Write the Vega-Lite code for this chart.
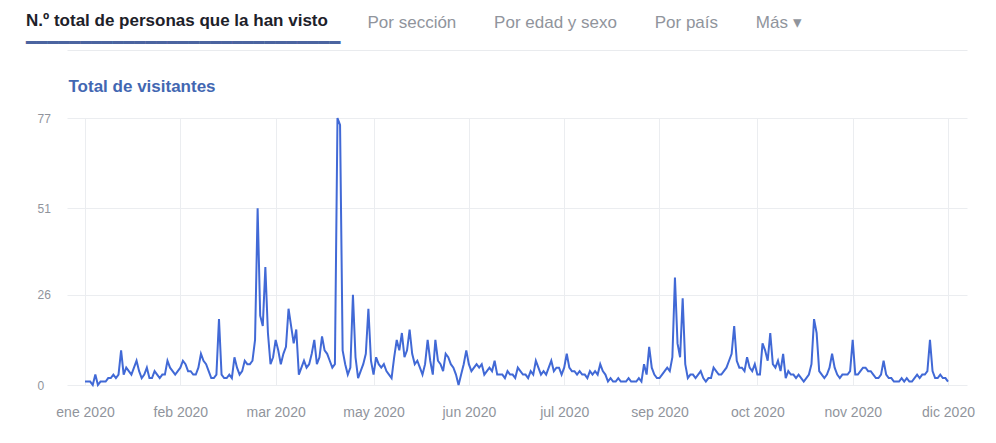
{
  "$schema": "https://vega.github.io/schema/vega-lite/v6.json",
  "width": 900,
  "height": 267,
  "autosize": {"type": "none"},
  "padding": {"left": 67, "top": 118, "right": 29, "bottom": 58},
  "background": "#ffffff",
  "config": {"view": {"stroke": null}, "font": "Liberation Sans"},
  "title": {
    "text": "N.º total de personas que la han visto",
    "subtitle": "━━━━━━━━━━━━━━━━━━━━━━━━━━━━━",
    "anchor": "start",
    "frame": "group",
    "dx": -41,
    "dy": 41,
    "offset": 0,
    "font": "Liberation Sans",
    "fontSize": 17,
    "fontWeight": "bold",
    "color": "#1d2129",
    "subtitleFont": "DejaVu Sans",
    "subtitleFontSize": 18,
    "subtitleColor": "#4b64a0",
    "subtitlePadding": 5
  },
  "data": {
    "values": [
      {"date": "2020-01-01", "v": 1}, {"date": "2020-01-02", "v": 1}, {"date": "2020-01-03", "v": 1}, {"date": "2020-01-04", "v": 0}, {"date": "2020-01-05", "v": 3}, {"date": "2020-01-06", "v": 0}, {"date": "2020-01-07", "v": 1}, {"date": "2020-01-08", "v": 1}, {"date": "2020-01-09", "v": 1}, {"date": "2020-01-10", "v": 2},
      {"date": "2020-01-11", "v": 2}, {"date": "2020-01-12", "v": 3}, {"date": "2020-01-13", "v": 2}, {"date": "2020-01-14", "v": 3}, {"date": "2020-01-15", "v": 10}, {"date": "2020-01-16", "v": 3}, {"date": "2020-01-17", "v": 5}, {"date": "2020-01-18", "v": 4}, {"date": "2020-01-19", "v": 3}, {"date": "2020-01-20", "v": 5},
      {"date": "2020-01-21", "v": 7}, {"date": "2020-01-22", "v": 4}, {"date": "2020-01-23", "v": 2}, {"date": "2020-01-24", "v": 3}, {"date": "2020-01-25", "v": 5}, {"date": "2020-01-26", "v": 2}, {"date": "2020-01-27", "v": 2}, {"date": "2020-01-28", "v": 4}, {"date": "2020-01-29", "v": 3}, {"date": "2020-01-30", "v": 2}, {"date": "2020-01-31", "v": 3},
      {"date": "2020-02-01", "v": 3}, {"date": "2020-02-02", "v": 7}, {"date": "2020-02-03", "v": 5}, {"date": "2020-02-04", "v": 4}, {"date": "2020-02-05", "v": 3}, {"date": "2020-02-06", "v": 4}, {"date": "2020-02-07", "v": 5}, {"date": "2020-02-08", "v": 7}, {"date": "2020-02-09", "v": 6}, {"date": "2020-02-10", "v": 4},
      {"date": "2020-02-11", "v": 4}, {"date": "2020-02-12", "v": 3}, {"date": "2020-02-13", "v": 3}, {"date": "2020-02-14", "v": 5}, {"date": "2020-02-15", "v": 9}, {"date": "2020-02-16", "v": 7}, {"date": "2020-02-17", "v": 6}, {"date": "2020-02-18", "v": 4}, {"date": "2020-02-19", "v": 2}, {"date": "2020-02-20", "v": 2},
      {"date": "2020-02-21", "v": 3}, {"date": "2020-02-22", "v": 19}, {"date": "2020-02-23", "v": 3}, {"date": "2020-02-24", "v": 2}, {"date": "2020-02-25", "v": 2}, {"date": "2020-02-26", "v": 3}, {"date": "2020-02-27", "v": 2}, {"date": "2020-02-28", "v": 8}, {"date": "2020-02-29", "v": 5},
      {"date": "2020-03-01", "v": 3}, {"date": "2020-03-02", "v": 4}, {"date": "2020-03-03", "v": 7}, {"date": "2020-03-04", "v": 6}, {"date": "2020-03-05", "v": 6}, {"date": "2020-03-06", "v": 7}, {"date": "2020-03-07", "v": 13}, {"date": "2020-03-08", "v": 51}, {"date": "2020-03-09", "v": 20}, {"date": "2020-03-10", "v": 17},
      {"date": "2020-03-11", "v": 34}, {"date": "2020-03-12", "v": 15}, {"date": "2020-03-13", "v": 6}, {"date": "2020-03-14", "v": 8}, {"date": "2020-03-15", "v": 13}, {"date": "2020-03-16", "v": 10}, {"date": "2020-03-17", "v": 6}, {"date": "2020-03-18", "v": 9}, {"date": "2020-03-19", "v": 11}, {"date": "2020-03-20", "v": 22},
      {"date": "2020-03-21", "v": 17}, {"date": "2020-03-22", "v": 12}, {"date": "2020-03-23", "v": 16}, {"date": "2020-03-24", "v": 3}, {"date": "2020-03-25", "v": 5}, {"date": "2020-03-26", "v": 7}, {"date": "2020-03-27", "v": 5}, {"date": "2020-03-28", "v": 6}, {"date": "2020-03-29", "v": 9}, {"date": "2020-03-30", "v": 13}, {"date": "2020-03-31", "v": 6},
      {"date": "2020-04-01", "v": 8}, {"date": "2020-04-02", "v": 14}, {"date": "2020-04-03", "v": 10}, {"date": "2020-04-04", "v": 9}, {"date": "2020-04-05", "v": 7}, {"date": "2020-04-06", "v": 5}, {"date": "2020-04-07", "v": 6}, {"date": "2020-04-08", "v": 77}, {"date": "2020-04-09", "v": 75}, {"date": "2020-04-10", "v": 10},
      {"date": "2020-04-11", "v": 6}, {"date": "2020-04-12", "v": 3}, {"date": "2020-04-13", "v": 5}, {"date": "2020-04-14", "v": 26}, {"date": "2020-04-15", "v": 8}, {"date": "2020-04-16", "v": 2}, {"date": "2020-04-17", "v": 4}, {"date": "2020-04-18", "v": 6}, {"date": "2020-04-19", "v": 9}, {"date": "2020-04-20", "v": 22},
      {"date": "2020-04-21", "v": 7}, {"date": "2020-04-22", "v": 3}, {"date": "2020-04-23", "v": 8}, {"date": "2020-04-24", "v": 6}, {"date": "2020-04-25", "v": 5}, {"date": "2020-04-26", "v": 6}, {"date": "2020-04-27", "v": 4}, {"date": "2020-04-28", "v": 3}, {"date": "2020-04-29", "v": 2}, {"date": "2020-04-30", "v": 8},
      {"date": "2020-05-01", "v": 13}, {"date": "2020-05-02", "v": 10}, {"date": "2020-05-03", "v": 15}, {"date": "2020-05-04", "v": 8}, {"date": "2020-05-05", "v": 10}, {"date": "2020-05-06", "v": 16}, {"date": "2020-05-07", "v": 9}, {"date": "2020-05-08", "v": 6}, {"date": "2020-05-09", "v": 7}, {"date": "2020-05-10", "v": 5},
      {"date": "2020-05-11", "v": 3}, {"date": "2020-05-12", "v": 6}, {"date": "2020-05-13", "v": 13}, {"date": "2020-05-14", "v": 7}, {"date": "2020-05-15", "v": 3}, {"date": "2020-05-16", "v": 13}, {"date": "2020-05-17", "v": 7}, {"date": "2020-05-18", "v": 6}, {"date": "2020-05-19", "v": 4}, {"date": "2020-05-20", "v": 9},
      {"date": "2020-05-21", "v": 8}, {"date": "2020-05-22", "v": 6}, {"date": "2020-05-23", "v": 5}, {"date": "2020-05-24", "v": 3}, {"date": "2020-05-25", "v": 0}, {"date": "2020-05-26", "v": 3}, {"date": "2020-05-27", "v": 6}, {"date": "2020-05-28", "v": 10}, {"date": "2020-05-29", "v": 6}, {"date": "2020-05-30", "v": 4}, {"date": "2020-05-31", "v": 5},
      {"date": "2020-06-01", "v": 6}, {"date": "2020-06-02", "v": 5}, {"date": "2020-06-03", "v": 6}, {"date": "2020-06-04", "v": 3}, {"date": "2020-06-05", "v": 4}, {"date": "2020-06-06", "v": 5}, {"date": "2020-06-07", "v": 4}, {"date": "2020-06-08", "v": 7}, {"date": "2020-06-09", "v": 3}, {"date": "2020-06-10", "v": 3},
      {"date": "2020-06-11", "v": 3}, {"date": "2020-06-12", "v": 2}, {"date": "2020-06-13", "v": 4}, {"date": "2020-06-14", "v": 3}, {"date": "2020-06-15", "v": 3}, {"date": "2020-06-16", "v": 2}, {"date": "2020-06-17", "v": 5}, {"date": "2020-06-18", "v": 4}, {"date": "2020-06-19", "v": 3}, {"date": "2020-06-20", "v": 3},
      {"date": "2020-06-21", "v": 2}, {"date": "2020-06-22", "v": 4}, {"date": "2020-06-23", "v": 3}, {"date": "2020-06-24", "v": 7}, {"date": "2020-06-25", "v": 5}, {"date": "2020-06-26", "v": 3}, {"date": "2020-06-27", "v": 4}, {"date": "2020-06-28", "v": 3}, {"date": "2020-06-29", "v": 5}, {"date": "2020-06-30", "v": 7},
      {"date": "2020-07-01", "v": 4}, {"date": "2020-07-02", "v": 5}, {"date": "2020-07-03", "v": 5}, {"date": "2020-07-04", "v": 3}, {"date": "2020-07-05", "v": 5}, {"date": "2020-07-06", "v": 9}, {"date": "2020-07-07", "v": 5}, {"date": "2020-07-08", "v": 4}, {"date": "2020-07-09", "v": 4}, {"date": "2020-07-10", "v": 3},
      {"date": "2020-07-11", "v": 4}, {"date": "2020-07-12", "v": 3}, {"date": "2020-07-13", "v": 3}, {"date": "2020-07-14", "v": 2}, {"date": "2020-07-15", "v": 4}, {"date": "2020-07-16", "v": 3}, {"date": "2020-07-17", "v": 4}, {"date": "2020-07-18", "v": 3}, {"date": "2020-07-19", "v": 6}, {"date": "2020-07-20", "v": 4},
      {"date": "2020-07-21", "v": 3}, {"date": "2020-07-22", "v": 1}, {"date": "2020-07-23", "v": 2}, {"date": "2020-07-24", "v": 1}, {"date": "2020-07-25", "v": 1}, {"date": "2020-07-26", "v": 2}, {"date": "2020-07-27", "v": 1}, {"date": "2020-07-28", "v": 1}, {"date": "2020-07-29", "v": 1}, {"date": "2020-07-30", "v": 2}, {"date": "2020-07-31", "v": 1},
      {"date": "2020-08-01", "v": 1}, {"date": "2020-08-02", "v": 1}, {"date": "2020-08-03", "v": 2}, {"date": "2020-08-04", "v": 1}, {"date": "2020-08-05", "v": 6}, {"date": "2020-08-06", "v": 3}, {"date": "2020-08-07", "v": 11}, {"date": "2020-08-08", "v": 5}, {"date": "2020-08-09", "v": 3}, {"date": "2020-08-10", "v": 2},
      {"date": "2020-08-11", "v": 2}, {"date": "2020-08-12", "v": 3}, {"date": "2020-08-13", "v": 4}, {"date": "2020-08-14", "v": 5}, {"date": "2020-08-15", "v": 4}, {"date": "2020-08-16", "v": 8}, {"date": "2020-08-17", "v": 31}, {"date": "2020-08-18", "v": 12}, {"date": "2020-08-19", "v": 8}, {"date": "2020-08-20", "v": 25},
      {"date": "2020-08-21", "v": 6}, {"date": "2020-08-22", "v": 2}, {"date": "2020-08-23", "v": 3}, {"date": "2020-08-24", "v": 3}, {"date": "2020-08-25", "v": 2}, {"date": "2020-08-26", "v": 3}, {"date": "2020-08-27", "v": 4}, {"date": "2020-08-28", "v": 2}, {"date": "2020-08-29", "v": 1}, {"date": "2020-08-30", "v": 2}, {"date": "2020-08-31", "v": 2},
      {"date": "2020-09-01", "v": 5}, {"date": "2020-09-02", "v": 4}, {"date": "2020-09-03", "v": 3}, {"date": "2020-09-04", "v": 3}, {"date": "2020-09-05", "v": 4}, {"date": "2020-09-06", "v": 5}, {"date": "2020-09-07", "v": 7}, {"date": "2020-09-08", "v": 9}, {"date": "2020-09-09", "v": 17}, {"date": "2020-09-10", "v": 7},
      {"date": "2020-09-11", "v": 5}, {"date": "2020-09-12", "v": 5}, {"date": "2020-09-13", "v": 4}, {"date": "2020-09-14", "v": 8}, {"date": "2020-09-15", "v": 5}, {"date": "2020-09-16", "v": 4}, {"date": "2020-09-17", "v": 6}, {"date": "2020-09-18", "v": 3}, {"date": "2020-09-19", "v": 3}, {"date": "2020-09-20", "v": 12},
      {"date": "2020-09-21", "v": 10}, {"date": "2020-09-22", "v": 7}, {"date": "2020-09-23", "v": 15}, {"date": "2020-09-24", "v": 6}, {"date": "2020-09-25", "v": 5}, {"date": "2020-09-26", "v": 7}, {"date": "2020-09-27", "v": 4}, {"date": "2020-09-28", "v": 9}, {"date": "2020-09-29", "v": 2}, {"date": "2020-09-30", "v": 4},
      {"date": "2020-10-01", "v": 3}, {"date": "2020-10-02", "v": 3}, {"date": "2020-10-03", "v": 2}, {"date": "2020-10-04", "v": 3}, {"date": "2020-10-05", "v": 2}, {"date": "2020-10-06", "v": 1}, {"date": "2020-10-07", "v": 2}, {"date": "2020-10-08", "v": 3}, {"date": "2020-10-09", "v": 6}, {"date": "2020-10-10", "v": 19},
      {"date": "2020-10-11", "v": 15}, {"date": "2020-10-12", "v": 4}, {"date": "2020-10-13", "v": 3}, {"date": "2020-10-14", "v": 2}, {"date": "2020-10-15", "v": 3}, {"date": "2020-10-16", "v": 5}, {"date": "2020-10-17", "v": 9}, {"date": "2020-10-18", "v": 5}, {"date": "2020-10-19", "v": 3}, {"date": "2020-10-20", "v": 2},
      {"date": "2020-10-21", "v": 3}, {"date": "2020-10-22", "v": 3}, {"date": "2020-10-23", "v": 3}, {"date": "2020-10-24", "v": 4}, {"date": "2020-10-25", "v": 13}, {"date": "2020-10-26", "v": 3}, {"date": "2020-10-27", "v": 3}, {"date": "2020-10-28", "v": 4}, {"date": "2020-10-29", "v": 5}, {"date": "2020-10-30", "v": 5}, {"date": "2020-10-31", "v": 4},
      {"date": "2020-11-01", "v": 4}, {"date": "2020-11-02", "v": 3}, {"date": "2020-11-03", "v": 2}, {"date": "2020-11-04", "v": 2}, {"date": "2020-11-05", "v": 3}, {"date": "2020-11-06", "v": 7}, {"date": "2020-11-07", "v": 3}, {"date": "2020-11-08", "v": 2}, {"date": "2020-11-09", "v": 2}, {"date": "2020-11-10", "v": 1},
      {"date": "2020-11-11", "v": 1}, {"date": "2020-11-12", "v": 1}, {"date": "2020-11-13", "v": 2}, {"date": "2020-11-14", "v": 1}, {"date": "2020-11-15", "v": 2}, {"date": "2020-11-16", "v": 1}, {"date": "2020-11-17", "v": 1}, {"date": "2020-11-18", "v": 2}, {"date": "2020-11-19", "v": 3}, {"date": "2020-11-20", "v": 2},
      {"date": "2020-11-21", "v": 3}, {"date": "2020-11-22", "v": 3}, {"date": "2020-11-23", "v": 4}, {"date": "2020-11-24", "v": 13}, {"date": "2020-11-25", "v": 4}, {"date": "2020-11-26", "v": 2}, {"date": "2020-11-27", "v": 2}, {"date": "2020-11-28", "v": 3}, {"date": "2020-11-29", "v": 2}, {"date": "2020-11-30", "v": 2},
      {"date": "2020-12-01", "v": 1}
    ]
  },
  "layer": [
    {
      "mark": {"type": "line", "color": "#4169d6", "strokeWidth": 2},
      "encoding": {
        "x": {
          "field": "date",
          "type": "temporal",
          "scale": {
            "type": "utc",
            "domain": [
              {"year": 2019, "month": 12, "date": 25, "utc": true},
              {"year": 2020, "month": 12, "date": 8, "hours": 9, "utc": true}
            ]
          },
          "axis": {
            "orient": "bottom",
            "title": null,
            "values": [
              {"year": 2020, "month": 1, "date": 1, "utc": true},
              {"year": 2020, "month": 2, "date": 7, "utc": true},
              {"year": 2020, "month": 3, "date": 15, "utc": true},
              {"year": 2020, "month": 4, "date": 22, "utc": true},
              {"year": 2020, "month": 5, "date": 29, "utc": true},
              {"year": 2020, "month": 7, "date": 5, "utc": true},
              {"year": 2020, "month": 8, "date": 11, "utc": true},
              {"year": 2020, "month": 9, "date": 18, "utc": true},
              {"year": 2020, "month": 10, "date": 25, "utc": true},
              {"year": 2020, "month": 12, "date": 1, "utc": true}
            ],
            "labelExpr": "['ene 2020','feb 2020','mar 2020','may 2020','jun 2020','jul 2020','sep 2020','oct 2020','nov 2020','dic 2020'][round(datum.index * 9)]",
            "grid": true,
            "gridColor": "#ebedf0",
            "ticks": false,
            "tickSize": 0,
            "domain": false,
            "labelPadding": 20,
            "labelFont": "Liberation Sans",
            "labelFontSize": 14,
            "labelColor": "#90949c",
            "labelFlush": false,
            "labelOverlap": false
          }
        },
        "y": {
          "field": "v",
          "type": "quantitative",
          "scale": {"domain": [0, 77], "nice": false},
          "axis": {
            "values": [0, 26, 51, 77],
            "title": "Total de visitantes",
            "titleAngle": 0,
            "titleX": 1,
            "titleY": -32,
            "titleAlign": "left",
            "titleBaseline": "middle",
            "titleColor": "#4267b2",
            "titleFont": "Liberation Sans",
            "titleFontSize": 17,
            "titleFontWeight": "bold",
            "grid": true,
            "gridColor": "#ebedf0",
            "ticks": false,
            "tickSize": 0,
            "domain": false,
            "labelAlign": "left",
            "labelPadding": 30,
            "labelFont": "Liberation Sans",
            "labelFontSize": 12,
            "labelColor": "#90949c"
          }
        }
      }
    },
    {
      "mark": {"type": "point", "opacity": 0},
      "encoding": {
        "x": {
          "field": "date",
          "type": "temporal",
          "axis": {
            "orient": "top",
            "labels": false,
            "ticks": false,
            "grid": false,
            "domain": true,
            "domainColor": "#e9ebee",
            "domainWidth": 1,
            "offset": 68,
            "title": "Por sección\u00a0\u00a0\u00a0\u00a0\u00a0\u00a0\u00a0\u00a0Por edad y sexo\u00a0\u00a0\u00a0\u00a0\u00a0\u00a0\u00a0\u00a0Por país\u00a0\u00a0\u00a0\u00a0\u00a0\u00a0\u00a0\u00a0Más ▾",
            "titleX": 300,
            "titleY": -28,
            "titleAlign": "left",
            "titleBaseline": "middle",
            "titleAngle": 0,
            "titleFont": "Liberation Sans",
            "titleFontSize": 17,
            "titleFontWeight": "normal",
            "titleColor": "#90949c"
          }
        }
      }
    }
  ],
  "resolve": {"axis": {"x": "independent"}}
}
